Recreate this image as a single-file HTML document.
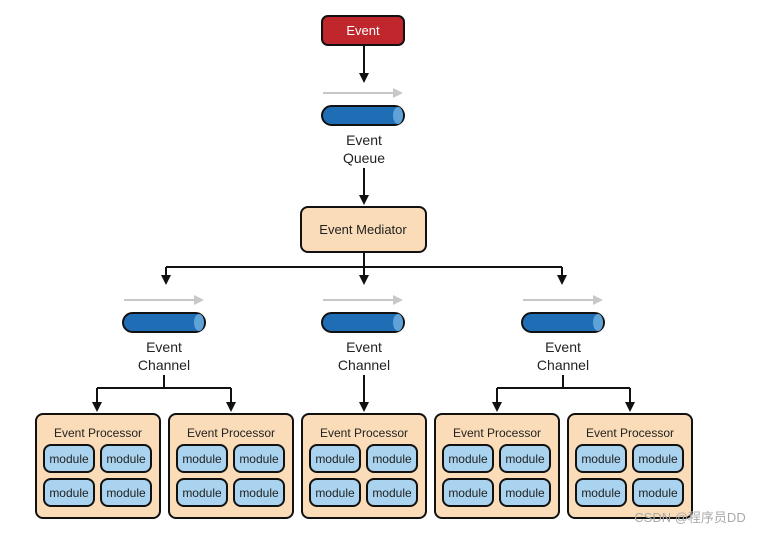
<!DOCTYPE html><html><head><style>body{margin:0;background:#fff}</style></head><body>
<svg width="763" height="534" viewBox="0 0 763 534" xmlns="http://www.w3.org/2000/svg" font-family="Liberation Sans Narrow, Liberation Sans, sans-serif">
<defs><marker id="a" markerWidth="10" markerHeight="10" refX="5" refY="5" orient="auto" markerUnits="userSpaceOnUse"><path d="M0,0L10,5L0,10z" fill="#111"/></marker>
<g id="pipe"><rect x="0" y="0" width="82" height="19" rx="9.5" fill="#1f6db5" stroke="#111" stroke-width="2"/><ellipse cx="76" cy="9.5" rx="5" ry="8.5" fill="#5fa2d8"/></g>
<g id="garrow"><line x1="0" y1="0" x2="72" y2="0" stroke="#c8c8c8" stroke-width="2"/><path d="M70,-5L80,0L70,5z" fill="#c8c8c8"/></g>
<g id="proc"><rect x="0" y="0" width="124" height="104" rx="7" fill="#fbdcb8" stroke="#111" stroke-width="2"/>
<text x="62" y="23" font-size="12" text-anchor="middle" fill="#222">Event Processor</text>
<g font-size="12" text-anchor="middle" fill="#222">
<rect x="8" y="31" width="50" height="27" rx="7" fill="#a9d3ee" stroke="#111" stroke-width="2"/><text x="33" y="49">module</text>
<rect x="65" y="31" width="50" height="27" rx="7" fill="#a9d3ee" stroke="#111" stroke-width="2"/><text x="90" y="49">module</text>
<rect x="8" y="65" width="50" height="27" rx="7" fill="#a9d3ee" stroke="#111" stroke-width="2"/><text x="33" y="83">module</text>
<rect x="65" y="65" width="50" height="27" rx="7" fill="#a9d3ee" stroke="#111" stroke-width="2"/><text x="90" y="83">module</text></g></g></defs>
<rect x="322" y="16" width="82" height="29" rx="6" fill="#c0272d" stroke="#111" stroke-width="2"/>
<text x="363" y="35" font-size="13" fill="#fff" text-anchor="middle">Event</text>
<g stroke="#111" stroke-width="2" fill="none">
<line x1="364" y1="45" x2="364" y2="78" marker-end="url(#a)"/>
<line x1="364" y1="168" x2="364" y2="200" marker-end="url(#a)"/>
<line x1="364" y1="252" x2="364" y2="267"/>
<line x1="166" y1="267" x2="562" y2="267"/>
<line x1="166" y1="267" x2="166" y2="280" marker-end="url(#a)"/>
<line x1="364" y1="267" x2="364" y2="280" marker-end="url(#a)"/>
<line x1="562" y1="267" x2="562" y2="280" marker-end="url(#a)"/>
<line x1="164" y1="375" x2="164" y2="388"/><line x1="97" y1="388" x2="231" y2="388"/>
<line x1="97" y1="388" x2="97" y2="407" marker-end="url(#a)"/><line x1="231" y1="388" x2="231" y2="407" marker-end="url(#a)"/>
<line x1="364" y1="375" x2="364" y2="407" marker-end="url(#a)"/>
<line x1="563" y1="375" x2="563" y2="388"/><line x1="497" y1="388" x2="630" y2="388"/>
<line x1="497" y1="388" x2="497" y2="407" marker-end="url(#a)"/><line x1="630" y1="388" x2="630" y2="407" marker-end="url(#a)"/>
</g>
<use href="#garrow" x="323" y="93"/><use href="#pipe" x="322" y="106"/>
<text x="364" y="145" font-size="14" text-anchor="middle" fill="#222">Event</text>
<text x="364" y="163" font-size="14" text-anchor="middle" fill="#222">Queue</text>
<rect x="301" y="207" width="125" height="45" rx="7" fill="#fbdcb8" stroke="#111" stroke-width="2"/>
<text x="363" y="234" font-size="13" text-anchor="middle" fill="#222">Event Mediator</text>
<use href="#garrow" x="124" y="300"/><use href="#pipe" x="123" y="313"/>
<use href="#garrow" x="323" y="300"/><use href="#pipe" x="322" y="313"/>
<use href="#garrow" x="523" y="300"/><use href="#pipe" x="522" y="313"/>
<g font-size="14" text-anchor="middle" fill="#222">
<text x="164" y="352">Event</text><text x="164" y="370">Channel</text>
<text x="364" y="352">Event</text><text x="364" y="370">Channel</text>
<text x="563" y="352">Event</text><text x="563" y="370">Channel</text></g>
<use href="#proc" x="36" y="414"/><use href="#proc" x="169" y="414"/><use href="#proc" x="302" y="414"/><use href="#proc" x="435" y="414"/><use href="#proc" x="568" y="414"/>
<text x="690" y="522" font-size="13" fill="#aaa" text-anchor="middle" font-family="Liberation Sans, Noto Sans CJK SC, sans-serif">CSDN @程序员DD</text>
</svg></body></html>
